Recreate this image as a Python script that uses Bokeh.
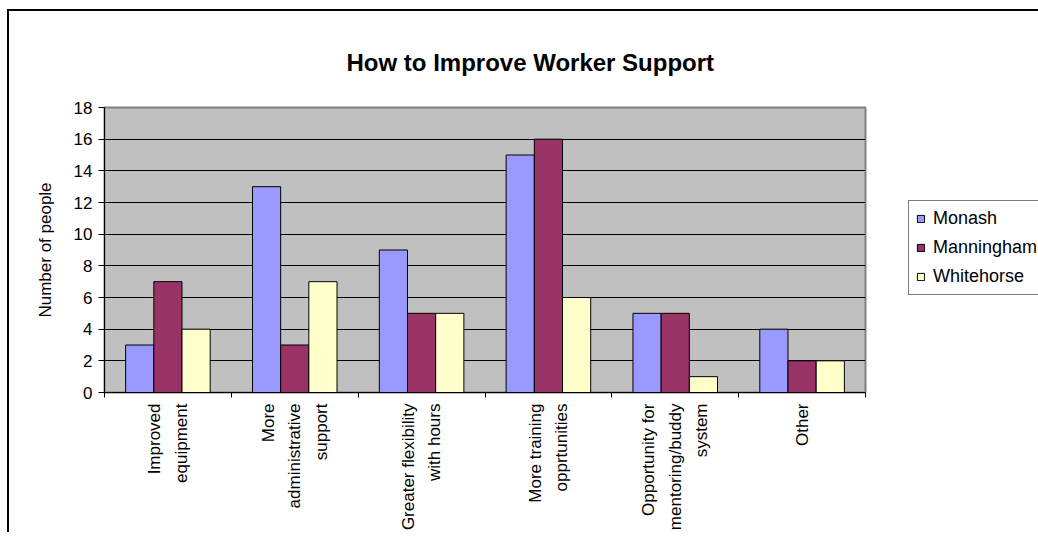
import math
from bokeh.plotting import figure
from bokeh.models import (Range1d, LinearAxis, FixedTicker,
                          Legend, LegendItem, ColumnDataSource, Grid)
from bokeh.transform import dodge
from bokeh.embed import file_html
from bokeh.resources import INLINE

# ---- data ----
categories = [
    "Improved\nequipment",
    "More\nadministrative\nsupport",
    "Greater flexibility\nwith hours",
    "More training\nopprtunities",
    "Opportunity for\nmentoring/buddy\nsystem",
    "Other",
]
monash = [3, 13, 9, 15, 5, 4]
manningham = [7, 3, 5, 16, 5, 2]
whitehorse = [4, 7, 5, 6, 1, 2]
series_names = ["Monash", "Manningham", "Whitehorse"]
series_colors = ["#9999FF", "#993366", "#FFFFCC"]
y_ticks = [0, 2, 4, 6, 8, 10, 12, 14, 16, 18]
title_text = "How to Improve Worker Support"
y_label = "Number of people"

FONT = "Liberation Sans"

n = len(categories)
centers = [i + 0.5 for i in range(n)]
src = ColumnDataSource(dict(xc=centers, Monash=monash,
                            Manningham=manningham, Whitehorse=whitehorse))

p = figure(frame_width=761, frame_height=285,
           x_range=Range1d(0, n), y_range=Range1d(0, 18),
           x_axis_location=None, y_axis_location=None,
           output_backend="svg", toolbar_location=None,
           min_border_left=95, min_border_top=96, min_border_right=173, min_border_bottom=142)
p.grid.visible = False

# place the chart inside an outer frame whose left/top edges are visible
p.styles = {"margin-left": "9px", "margin-top": "11px", "vertical-align": "top",
            "box-shadow": "-2px -2px 0 0 #000000"}

p.background_fill_color = "#C0C0C0"
p.border_fill_color = "white"
p.outline_line_color = "#808080"
p.outline_line_width = 2

# title
p.title.text = title_text
p.title.text_font = FONT
p.title.text_font_size = "24px"
p.title.text_font_style = "bold"
p.title.text_color = "black"
p.title.align = "left"
p.title.offset = 242
p.title.standoff = 63

# grid
grid = Grid(dimension=1, ticker=FixedTicker(ticks=y_ticks), grid_line_color="black",
            grid_line_width=1)
p.add_layout(grid)

# y axis
yaxis = LinearAxis(ticker=FixedTicker(ticks=y_ticks), axis_label=y_label,
                   axis_label_text_font=FONT, axis_label_text_font_size="17px",
                   axis_label_text_font_style="normal", axis_label_standoff=16,
                   axis_label_text_color="black",
                   major_label_text_font=FONT, major_label_text_font_size="17px",
                   major_label_text_color="black",
                   major_label_standoff=6, major_tick_out=6, major_tick_in=0,
                   minor_tick_line_color=None, axis_line_color="black",
                   major_tick_line_color="black")
p.add_layout(yaxis, "left")

# x axis: ticks at category boundaries
edge_axis = LinearAxis(ticker=FixedTicker(ticks=list(range(n + 1))),
                       major_label_text_font_size="1px", major_label_text_color=None,
                       major_label_standoff=0,
                       major_tick_out=5, major_tick_in=0, minor_tick_line_color=None,
                       axis_line_color="black", major_tick_line_color="black")
p.add_layout(edge_axis, "below")

# x axis: category labels at category centres
cat_axis = LinearAxis(ticker=FixedTicker(ticks=centers),
                      major_label_overrides={c: lab for c, lab in zip(centers, categories)},
                      major_label_orientation=math.pi / 2,
                      axis_line_color=None, major_tick_line_color=None,
                      minor_tick_line_color=None,
                      major_label_standoff=0,
                      major_label_text_font=FONT, major_label_text_font_size="17px",
                      major_label_text_color="black",
                      major_label_text_line_height=1.4)
p.add_layout(cat_axis, "below")

# bars
bar_w = 1 / 4.5
offsets = [-bar_w, 0, bar_w]
items = []
for name, color, off in zip(series_names, series_colors, offsets):
    r = p.vbar(x=dodge("xc", off), top=name, width=bar_w,
               source=src, fill_color=color, line_color="black", line_width=1)
    items.append(LegendItem(label=name, renderers=[r]))

legend = Legend(items=items, location=(43, 97),
                label_text_font=FONT, label_text_font_size="18px", label_text_color="black",
                glyph_width=9, glyph_height=9, label_standoff=8,
                label_height=20, spacing=8, padding=7, margin=0,
                border_line_color="black", border_line_width=1,
                background_fill_color="white", background_fill_alpha=1)
p.add_layout(legend, "right")

open("out.html", "w").write(file_html(p, INLINE))
